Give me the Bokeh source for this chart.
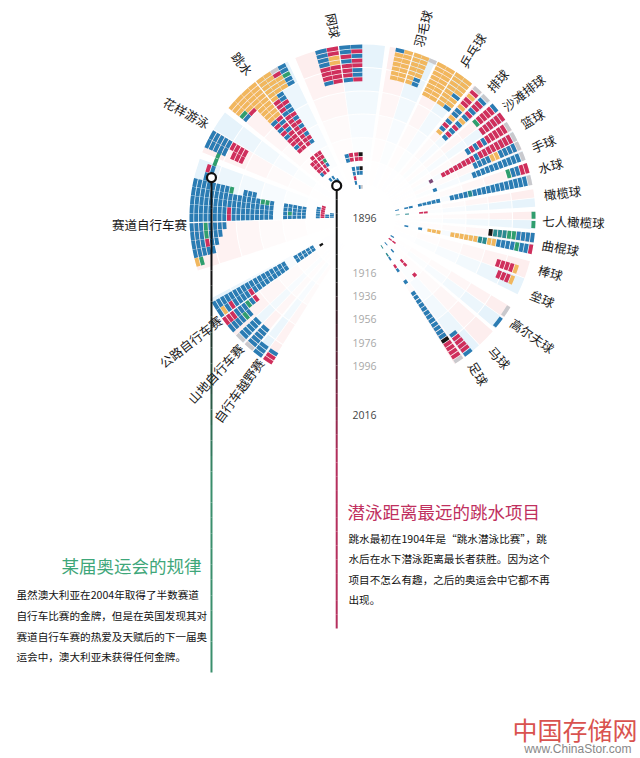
import numpy as np
from bokeh.plotting import figure
from bokeh.models import ColumnDataSource, Range1d
from bokeh.core.properties import value
from bokeh.embed import file_html
from bokeh.resources import INLINE

# Olympic years, newest first (outermost ring first)
YEARS = [2016,2012,2008,2004,2000,1996,1992,1988,1984,1980,1976,1972,1968,1964,
         1960,1956,1952,1948,1936,1932,1928,1924,1920,1912,1908,1904,1900,1896]

COLORS = dict(b="#2b7cb3", r="#cf2f5c", o="#f1b75e", g="#2f9e6e", k="#151515",
              x="#c9c9cd", t="#2a8a8f", p="#7d4a78")

# one token per year (YEARS order), one letter per gold medal, "." = none
track_men = "bbbbb bbbbb bbbbbbr bbbbbbbgg bbbbb bbbbb bbbbb bbbbb rrbbg bbbb bbbb bbbbb bbbbb bbbbb bbbb bbbg bbbg bbbb bbbb bgbb bbbb bbbb bbbb . bbbbb rrrrrr bb bbb".split()
track_women = "bbbbo bbbbg bbbb ggrb bbbb bbb bb b".split()
road_men = "bb ob bb rb bb bb bb bb rb bb bb bb bb bb bb bb bb bb bb bb bb bb bb k".split()
road_women = "rb rb rb bb bg bb g b r".split()
mtb_a = "x b b b b b".split()
mtb_b = "x b b b b b".split()
bmx_a = "b b b".split()
bmx_b = "r r b".split()
sync_women = "bb bb bb bb bb r rr rr rr".split()
diving_women = "oooo oooo oooo ooog oorb oo oo oo oo rb br rb br rb rr rr rb rr r rr rr rr rb b . . . .".split()
diving_men = "ooxb oorb ooog ooob ooob ob rb rr rb bb rr rb rr rb rr rb rr rb rr rr rg rb r b bb r . .".split()
tennis_women = "rb rb ob ob rr rr rr rb . . . . . . . . . . . . . rb rb b b r b .".split()
tennis_men = "bb br rb br rr rb rb br . . . . . . . . . . . . . rk rr bk bb . . bx".split()
badminton_women = "ob oo oo oo oo oo oo".split()
badminton_men = "oox oo oo oo oo ob ob".split()
tabletennis_women = "oo oo oo oo oo oo oo oo".split()
tabletennis_men = "oo oo oo oo ob oo oo ob".split()
volleyball_women = "x r o r r o b b o b r b o".split()
volleyball_men = "x b r r b r b o b r b r b".split()
beach_women = "b r r r r g".split()
beach_men = "r r r r r r".split()
basket_women = "x r r r r r b r b r b".split()
basket_men = "x r r r r r r r r b r r r r r r r r p".split()
hand_women = "x b b b b o o b b b b".split()
hand_men = "x b b b b b b b b b b b . . . . . . b".split()
polo_women = "r r b b g".split()
waterpolo_men = "x b b b b b b b b b b b b t b b b b b b b b b b b . b".split()
rugby_men = ". . . . . . . . . . . . . . . . . . . . . r r . t . t".split()
sevens_women = ["g"]
sevens_men = ["g"]
hockey_women = "b b b b g g t t t k".split()
hockey_men = "r b b g b b b b o o t t o o o o o o o o o . b . b".split()
baseball = ". . o r r r r".split()
softball = ". . o r r r".split()
golf_women = "x . . . . . . . . . . . . . . . . . . . . . . . . . b".split()
golf_men = "b . . . . . . . . . . . . . . . . . . . . . . . . r r".split()
polo_men = ". . . . . . . . . . . . . . . . . . r . . r r . b . b".split()
foot_women = "b r r r r b".split()
foot_men = "x r r r r k b b b b b b b b b b b b b . . b r b t . t".split()

# (rows, anchor angle, direction, cell angle)
WEDGES = [
 (track_men,181.7,-1,2.95),(track_women,181.7,1,2.95),(road_men,215.5,-1,3.0),(road_women,215.5,1,3.0),
 (mtb_a,226.7,-1,3.8),(mtb_b,226.7,1,3.8),(bmx_a,234.5,-1,3.8),(bmx_b,234.5,1,3.8),
 (sync_women,149.5,1,3.2),(diving_women,128.2,1,3.1),(diving_men,128.2,-1,2.85),
 (tennis_women,98,1,3.9),(tennis_men,98,-1,3.9),(badminton_women,72.7,1,3.0),(badminton_men,72.7,-1,2.7),
 (tabletennis_women,57.4,1,3.3),(tabletennis_men,57.4,-1,3.3),(volleyball_women,46,1,3.5),(volleyball_men,46,-1,3.5),
 (beach_women,37.8,1,3.5),(beach_men,37.8,-1,3.5),(basket_women,30,1,3.6),(basket_men,30,-1,3.6),
 (hand_women,22.8,1,3.4),(hand_men,22.8,-1,3.4),(polo_women,14.6,1,3.8),(waterpolo_men,14.6,-1,3.8),
 (rugby_men,6.5,-1,3.0),(sevens_women,-0.8,1,2.8),(sevens_men,-0.8,-1,2.8),
 (hockey_women,-8.7,1,3.6),(hockey_men,-8.7,-1,3.6),(baseball,-16.6,-1,3.6),(softball,-20.7,-1,3.6),
 (golf_women,-35.4,1,4.2),(golf_men,-35.4,-1,4.2),(polo_men,-45.6,-1,3.6),(foot_women,-54,1,3.6),(foot_men,-54,-1,3.6),
]

PINK, BLUE = "#fdeeee", "#e6f3fb"
# (from angle, to angle, tint)
BACKDROP = [(181.7,198,PINK),(160,181.7,BLUE),(215.5,223,PINK),(208,215.5,BLUE),(226.7,230.5,PINK),(223,226.7,BLUE),
 (234.5,238,PINK),(231,234.5,BLUE),(149.5,158,PINK),(142.5,149.5,BLUE),(128.2,141,PINK),(115.5,128.2,BLUE),
 (98,113,PINK),(82.4,98,BLUE),(72.7,81,PINK),(64.8,72.7,BLUE),(57.4,64,PINK),(51,57.4,BLUE),(46,50,PINK),(42,46,BLUE),
 (37.8,41.5,PINK),(34,37.8,BLUE),(30,33.6,PINK),(26.4,30,BLUE),(22.8,26.2,PINK),(19.4,22.8,BLUE),(14.6,18.4,PINK),(10.8,14.6,BLUE),
 (6.5,9.5,PINK),(3.4,6.5,BLUE),(-0.8,2.1,PINK),(-4,-0.8,BLUE),(-8.7,-5,PINK),(-12.4,-8.7,BLUE),(-20.5,-14.5,PINK),(-26.5,-20.5,BLUE),
 (-35.4,-31,PINK),(-40,-35.4,BLUE),(-47.5,-41,PINK),(-54,-47.5,BLUE),(-58,-54,PINK)]
BANDS = [(150.5,173,1.0),(127,149.5,0.75),(104,126,0.5),(80.5,103,0.3),(57.5,79.5,0.15),(33,56.5,0.06)]

SPORT_LABELS = [("跳水",242,63,-52),("花样游泳",186,112,-28),("赛道自行车赛",149,224,0),("公路自行车赛",190,341,38),
 ("山地自行车赛",215,373,47),("自行车越野赛",238,390,54),("网球",333,25,-78),("羽毛球",422,28,75),("乒乓球",472,50,58),
 ("排球",497,80,48),("沙滩排球",523,92,38),("篮球",532,118,30),("手球",543,143,22),("水球",550,165,15),("橄榄球",562,192,7),
 ("七人橄榄球",573,221,-2),("曲棍球",560,247,-10),("棒球",550,272,-15),("垒球",542,298,-23),("高尔夫球",532,335,-35),
 ("马球",499,357,-48),("足球",478,373,-58)]
YEAR_LABELS = [("1896",217,"#444444"),("1916",272,"#a8a8a8"),("1936",295,"#a8a8a8"),("1956",318,"#a8a8a8"),
               ("1976",342,"#a8a8a8"),("1996",365,"#a8a8a8"),("2016",414,"#444444")]
LEFT_NOTE = ["虽然澳大利亚在2004年取得了半数赛道","自行车比赛的金牌，但是在英国发现其对","赛道自行车赛的热爱及天赋后的下一届奥","运会中，澳大利亚未获得任何金牌。"]
RIGHT_NOTE = ["跳水最初在1904年是“跳水潜泳比赛”，跳","水后在水下潜泳距离最长者获胜。因为这个","项目不怎么有趣，之后的奥运会中它都不再","出现。"]

CX, CY = 362, 217
p = figure(width=640, height=758, output_backend="svg", toolbar_location=None,
           x_range=Range1d(0-CX, 640-CX), y_range=Range1d(CY-758, CY-0),
           min_border=0, outline_line_color=None, background_fill_color="white")
p.axis.visible = False
p.grid.visible = False

def ring(y):
    return 173 - 1.17*(2016-y)

# backdrop
bg = dict(ir=[],or_=[],s=[],e=[],c=[],a=[])
for a0,a1,c in BACKDROP:
    for ri,ro,al in BANDS:
        pad = 0.4/ro*57.3
        bg["ir"].append(ri); bg["or_"].append(ro)
        bg["s"].append(np.radians(a0+pad)); bg["e"].append(np.radians(a1-pad)); bg["c"].append(c); bg["a"].append(al)
n = len(bg["ir"])
bg["x"]=[0]*n; bg["y"]=[0]*n
p.annular_wedge("x","y",inner_radius="ir",outer_radius="or_",start_angle="s",end_angle="e",
                fill_color="c",fill_alpha="a",line_color=None,source=ColumnDataSource(bg))

# medal cells
d = dict(ir=[],or_=[],s=[],e=[],c=[])
for rows,anchor,sgn,cell in WEDGES:
    single = max(len(t) for t in rows) == 1
    for y,tok in zip(YEARS,rows):
        if tok==".": continue
        ro = ring(y); ri = ro-3.9
        pad = (0.7 if single else 0.15)/ro*57.3
        off = sgn*(0.5/ro*57.3)
        for i,ch in enumerate(tok):
            a = anchor+off+sgn*i*cell; b = anchor+off+sgn*(i+1)*cell
            lo,hi = min(a,b),max(a,b)
            d["ir"].append(ri); d["or_"].append(ro)
            d["s"].append(np.radians(lo+pad)); d["e"].append(np.radians(hi-pad)); d["c"].append(COLORS[ch])
n=len(d["ir"]); d["x"]=[0]*n; d["y"]=[0]*n
p.annular_wedge("x","y",inner_radius="ir",outer_radius="or_",start_angle="s",end_angle="e",
                fill_color="c",line_color=None,source=ColumnDataSource(d))

FONT = value("Noto Sans CJK SC")
def put(txt,x,y,size,color,ang=0,align="center",font=FONT):
    p.text([x-CX],[CY-y],text=[txt],text_font=font,text_font_size=size,text_color=color,
           angle=[ang],angle_units="deg",text_align=align,text_baseline="middle")

# annotation lines with black-to-colour fade
def lead(r,ang,y_end,col):
    x0 = r*np.cos(np.radians(ang)); y0 = r*np.sin(np.radians(ang))
    yb = CY-y_end
    ts = np.linspace(0,1,33)
    c0 = np.array([0x11,0x11,0x11]); c1 = np.array([int(col[i:i+2],16) for i in (1,3,5)])
    cols = ["#%02x%02x%02x"%tuple((c0+(c1-c0)*min(1,max(0,(t-0.2)/0.4))).astype(int)) for t in ts[:-1]]
    ys = y0+(yb-y0)*ts
    p.multi_line([[x0,x0]]*32,[[ys[i],ys[i+1]] for i in range(32)],line_color=cols,line_width=2)
    p.scatter([x0],[y0],size=9,fill_color="white",line_color="#111111",line_width=2.2)

lead(156.2,165.2,672,"#3a8f6d")
lead(41,129,628,"#b5305e")

for t,x,y,rot in SPORT_LABELS:
    put(t,x,y,"12.5px","#1a1a1a",rot)
for t,y,c in YEAR_LABELS:
    put(t,364,y,"10.5px",c,font=value("Open Sans"))

put("某届奥运会的规律",201,565,"17.5px","#3fa77a",align="right")
put("潜泳距离最远的跳水项目",347,511,"17.5px","#c0305e",align="left")
for t,y in zip(LEFT_NOTE,[594,615,636,656]):
    put(t,16,y,"10.6px","#111111",align="left")
for t,y in zip(RIGHT_NOTE,[538,558,579,599]):
    put(t,348,y,"10.6px","#111111",align="left")
put("中国存储网",637,728,"25px","#d9534f",align="right")
put("www.ChinaStor.com",631,748,"12px","#888888",align="right",font=value("Liberation Sans"))

open("out.html","w").write(file_html(p,INLINE))
